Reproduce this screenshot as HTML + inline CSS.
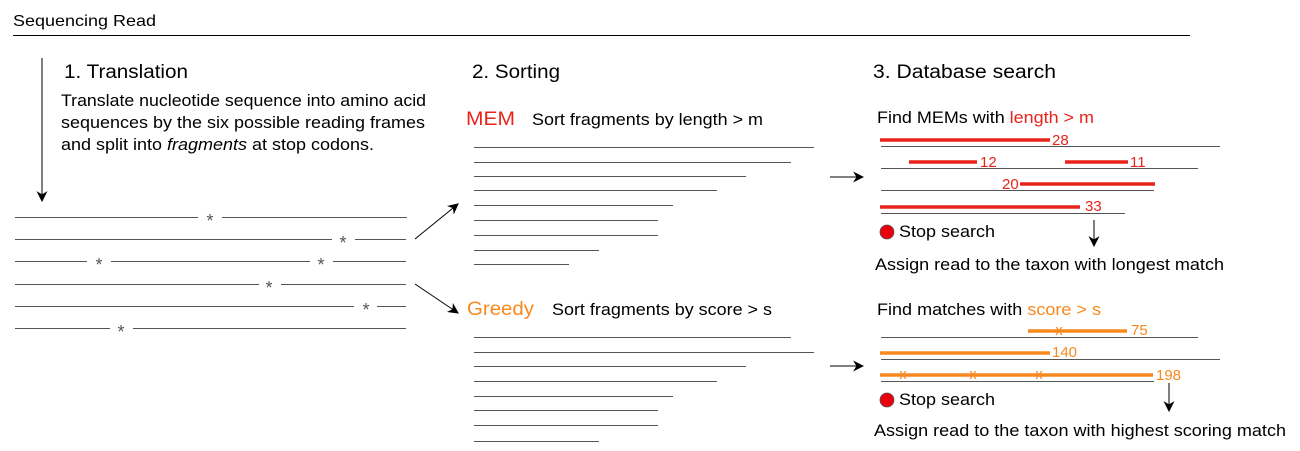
<!DOCTYPE html>
<html><head><style>
body{margin:0;background:#fff}
svg{display:block}
text{font-family:"Liberation Sans",Arial,sans-serif}
</style></head><body>
<svg width="1300" height="451" viewBox="0 0 1300 451" xmlns="http://www.w3.org/2000/svg">
<defs>
<marker id="a" viewBox="0 0 10 10" refX="9" refY="5" markerWidth="11" markerHeight="11" orient="auto" markerUnits="userSpaceOnUse"><path d="M0,0 L10,5 L0,10 L3,5 z" fill="#000"/></marker>
</defs>
<text x="13" y="26" font-size="16" textLength="143" lengthAdjust="spacingAndGlyphs">Sequencing Read</text>
<line x1="13" y1="35.5" x2="1190" y2="35.5" stroke="#000" stroke-width="1"/>
<line x1="42" y1="58" x2="42" y2="201" stroke="#000" marker-end="url(#a)"/>
<text x="64" y="78" font-size="19" textLength="124" lengthAdjust="spacingAndGlyphs">1. Translation</text>
<text x="61" y="106" font-size="17" textLength="365" lengthAdjust="spacingAndGlyphs">Translate nucleotide sequence into amino acid</text>
<text x="61" y="128" font-size="17" textLength="364" lengthAdjust="spacingAndGlyphs">sequences by the six possible reading frames</text>
<text x="61" y="150" font-size="17" textLength="313" lengthAdjust="spacingAndGlyphs">and split into <tspan font-style="italic">fragments</tspan> at stop codons.</text>
<g stroke="#555" stroke-width="1">
<line x1="15" y1="217.5" x2="198" y2="217.5"/><line x1="222" y1="217.5" x2="407" y2="217.5"/>
<line x1="15" y1="239.5" x2="332" y2="239.5"/><line x1="355" y1="239.5" x2="406" y2="239.5"/>
<line x1="15" y1="261.5" x2="87" y2="261.5"/><line x1="111" y1="261.5" x2="310" y2="261.5"/><line x1="333" y1="261.5" x2="406" y2="261.5"/>
<line x1="15" y1="284.5" x2="259" y2="284.5"/><line x1="281" y1="284.5" x2="406" y2="284.5"/>
<line x1="15" y1="306.5" x2="354" y2="306.5"/><line x1="377" y1="306.5" x2="406" y2="306.5"/>
<line x1="15" y1="328.5" x2="110" y2="328.5"/><line x1="133" y1="328.5" x2="406" y2="328.5"/>
</g>
<g font-size="18" fill="#555" text-anchor="middle">
<text x="210" y="227">*</text><text x="343" y="249">*</text><text x="99" y="271">*</text><text x="321" y="271">*</text><text x="269" y="294">*</text><text x="366" y="316">*</text><text x="121" y="338">*</text>
</g>
<line x1="415" y1="239" x2="458" y2="204" stroke="#000" marker-end="url(#a)"/>
<line x1="415" y1="284" x2="458" y2="313" stroke="#000" marker-end="url(#a)"/>
<text x="472" y="78" font-size="19" textLength="88" lengthAdjust="spacingAndGlyphs">2. Sorting</text>
<text x="466" y="125" font-size="19" fill="#e8231c" textLength="49" lengthAdjust="spacingAndGlyphs">MEM</text>
<text x="532" y="125" font-size="17" textLength="231" lengthAdjust="spacingAndGlyphs">Sort fragments by length &gt; m</text>
<g stroke="#555" stroke-width="1">
<line x1="474" y1="147.5" x2="814" y2="147.5"/><line x1="474" y1="162.5" x2="791" y2="162.5"/><line x1="474" y1="176.5" x2="746" y2="176.5"/><line x1="474" y1="190.5" x2="717" y2="190.5"/><line x1="474" y1="205.5" x2="673" y2="205.5"/><line x1="474" y1="220.5" x2="658" y2="220.5"/><line x1="474" y1="235.5" x2="658" y2="235.5"/><line x1="474" y1="250.5" x2="599" y2="250.5"/><line x1="474" y1="264.5" x2="569" y2="264.5"/>
</g>
<text x="467" y="315" font-size="19" fill="#f7891e" textLength="67" lengthAdjust="spacingAndGlyphs">Greedy</text>
<text x="552" y="315" font-size="17" textLength="220" lengthAdjust="spacingAndGlyphs">Sort fragments by score &gt; s</text>
<g stroke="#555" stroke-width="1">
<line x1="474" y1="337.5" x2="791" y2="337.5"/><line x1="474" y1="352.5" x2="814" y2="352.5"/><line x1="474" y1="366.5" x2="746" y2="366.5"/><line x1="474" y1="381.5" x2="717" y2="381.5"/><line x1="474" y1="396.5" x2="673" y2="396.5"/><line x1="474" y1="410.5" x2="658" y2="410.5"/><line x1="474" y1="425.5" x2="658" y2="425.5"/><line x1="474" y1="441.5" x2="599" y2="441.5"/>
</g>
<line x1="830" y1="177" x2="863" y2="177" stroke="#000" marker-end="url(#a)"/>
<line x1="830" y1="366" x2="863" y2="366" stroke="#000" marker-end="url(#a)"/>
<text x="873" y="78" font-size="19" textLength="183" lengthAdjust="spacingAndGlyphs">3. Database search</text>
<text x="877" y="123" font-size="17" textLength="217" lengthAdjust="spacingAndGlyphs">Find MEMs with <tspan fill="#e8231c">length &gt; m</tspan></text>
<g stroke="#555" stroke-width="1">
<line x1="881" y1="146.5" x2="1220" y2="146.5"/><line x1="881" y1="168.5" x2="1198" y2="168.5"/><line x1="881" y1="190.5" x2="1154" y2="190.5"/><line x1="881" y1="213.5" x2="1125" y2="213.5"/>
</g>
<g stroke="#e8231c" stroke-width="3.5">
<line x1="880" y1="140" x2="1050" y2="140"/><line x1="909" y1="162" x2="977" y2="162"/><line x1="1065" y1="162" x2="1128" y2="162"/><line x1="1020" y1="184" x2="1155" y2="184"/><line x1="880" y1="207" x2="1080" y2="207"/>
</g>
<g font-size="15" fill="#e8231c">
<text x="1052" y="145">28</text><text x="980" y="167">12</text><text x="1130" y="167">11</text><text x="1002" y="189">20</text><text x="1085" y="211">33</text>
</g>
<circle cx="887" cy="232" r="7" fill="#e8000b" stroke="#555" stroke-width="0.8"/>
<text x="899" y="237" font-size="17" textLength="96" lengthAdjust="spacingAndGlyphs">Stop search</text>
<line x1="1094" y1="220" x2="1094" y2="246" stroke="#000" marker-end="url(#a)"/>
<text x="875" y="270" font-size="17" textLength="349" lengthAdjust="spacingAndGlyphs">Assign read to the taxon with longest match</text>
<text x="877" y="315" font-size="17" textLength="224" lengthAdjust="spacingAndGlyphs">Find matches with <tspan fill="#f7891e">score &gt; s</tspan></text>
<g stroke="#555" stroke-width="1">
<line x1="881" y1="337.5" x2="1198" y2="337.5"/><line x1="881" y1="359.5" x2="1220" y2="359.5"/><line x1="881" y1="381.5" x2="1154" y2="381.5"/>
</g>
<g stroke="#f7891e" stroke-width="3.5">
<line x1="1028" y1="331" x2="1127" y2="331"/><line x1="880" y1="353" x2="1050" y2="353"/><line x1="880" y1="375" x2="1153" y2="375"/>
</g>
<g font-size="15" fill="#f7891e">
<text x="1131" y="335">75</text><text x="1052" y="357">140</text><text x="1156" y="380">198</text>
<text x="1059" y="335" text-anchor="middle">x</text><text x="903" y="379" text-anchor="middle">x</text><text x="973" y="379" text-anchor="middle">x</text><text x="1039" y="379" text-anchor="middle">x</text>
</g>
<circle cx="887" cy="400" r="7" fill="#e8000b" stroke="#555" stroke-width="0.8"/>
<text x="899" y="405" font-size="17" textLength="96" lengthAdjust="spacingAndGlyphs">Stop search</text>
<line x1="1169" y1="383" x2="1169" y2="411" stroke="#000" marker-end="url(#a)"/>
<text x="874" y="436" font-size="17" textLength="412" lengthAdjust="spacingAndGlyphs">Assign read to the taxon with highest scoring match</text>
</svg>
</body></html>
